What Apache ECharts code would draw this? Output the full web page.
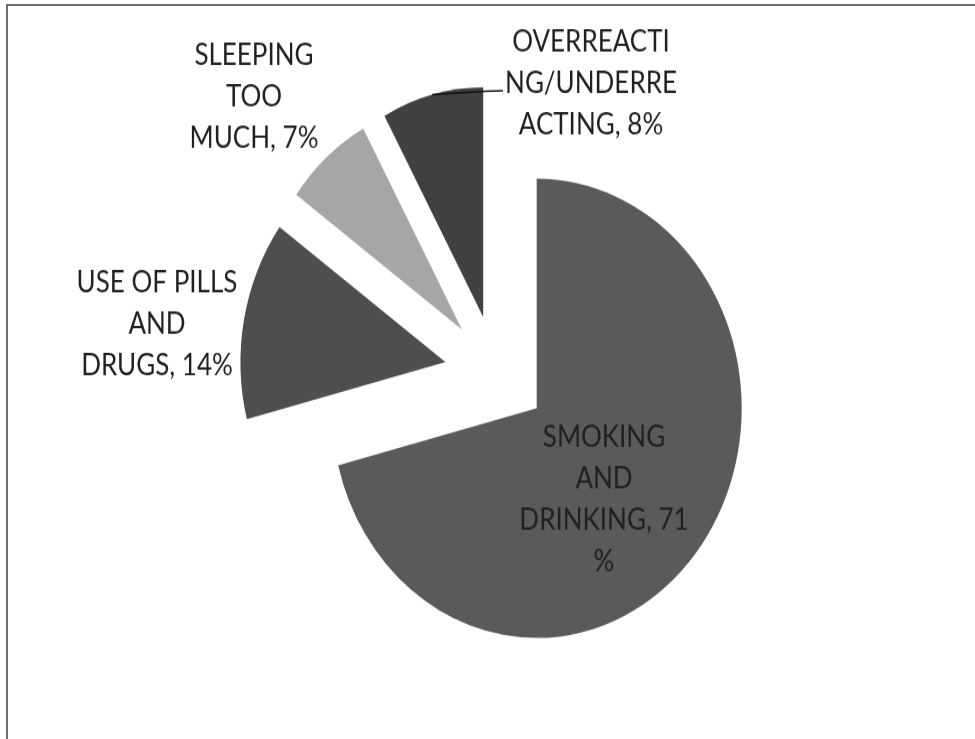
<!DOCTYPE html>
<html>
<head>
<meta charset="utf-8">
<script src="https://cdn.jsdelivr.net/npm/echarts@6/dist/echarts.min.js"></script>
<style>
  html, body { margin: 0; padding: 0; background: #ffffff; }
  body { width: 975px; height: 739px; position: relative; overflow: hidden; }
  #frame { position: absolute; left: 6px; top: 4px; width: 969px; height: 735px;
           border-left: 2px solid #6e6e6e; border-top: 2px solid #6e6e6e; box-sizing: border-box; }
  #wrap { position: absolute; left: 0; top: 0; width: 975px; height: 660px;
          transform: scaleY(1.12); transform-origin: 0 0; }
</style>
</head>
<body>
<div id="frame"></div>
<div id="wrap"></div>
<script>
// ---- data ----
var categories = ['SMOKING AND DRINKING', 'USE OF PILLS AND DRUGS', 'SLEEPING TOO MUCH', 'OVERREACTING/UNDERREACTING'];
var values = [71, 14, 7, 8];
var labelTexts = ['SMOKING\nAND\nDRINKING, 71\n%', 'USE OF PILLS\nAND\nDRUGS, 14%', 'SLEEPING\nTOO\nMUCH, 7%', 'OVERREACTI\nNG/UNDERRE\nACTING, 8%'];
var colors = ['#5a5a5c', '#4e4e50', '#a6a6a8', '#414143'];

// ---- layout (kept separate from data) ----
var CENTER = [496, 333];
var RADIUS = 205;
var EXPLODE = 51.5;
var labelAnchors = [[604, 446], [157, 290], [254, 87], [591, 75]];

// outer-arc midpoint of an exploded slice, from the values
function arcMid(idx) {
  var total = values.reduce(function (a, b) { return a + b; }, 0);
  var before = 0;
  for (var i = 0; i < idx; i++) before += values[i];
  var mid = (before + values[idx] / 2) / total * 2 * Math.PI;
  var r = RADIUS + EXPLODE;
  return [CENTER[0] + r * Math.sin(mid), CENTER[1] - r * Math.cos(mid)];
}

var chart = echarts.init(document.getElementById('wrap'), null, { renderer: 'canvas' });

var sliceData = categories.map(function (c, i) {
  return { name: c, value: values[i], selected: true, itemStyle: { color: colors[i] } };
});
var labelData = categories.map(function (c, i) {
  var item = { name: c, value: values[i], label: { formatter: labelTexts[i] } };
  if (i === 3) { item.labelLine = { show: true, lineStyle: { color: '#111111', width: 1.6 } }; }
  return item;
});

chart.setOption({
  animation: false,
  series: [{
    type: 'pie',
    name: 'slices',
    z: 1,
    center: CENTER,
    radius: [0, RADIUS],
    startAngle: 90,
    clockwise: true,
    selectedMode: 'multiple',
    selectedOffset: EXPLODE,
    silent: true,
    itemStyle: { borderWidth: 0 },
    label: { show: false },
    labelLine: { show: false },
    data: sliceData
  }, {
    type: 'pie',
    name: 'labels',
    z: 5,
    center: CENTER,
    radius: [0, RADIUS],
    startAngle: 90,
    clockwise: true,
    silent: true,
    avoidLabelOverlap: false,
    itemStyle: { color: 'rgba(0,0,0,0)', borderWidth: 0 },
    label: {
      show: true,
      position: 'outside',
      color: '#231f20',
      fontFamily: 'Lato',
      fontSize: 26,
      lineHeight: 37,
      align: 'center'
    },
    labelLine: { show: false, length: 10, length2: 10 },
    labelLayout: function (p) {
      var a = labelAnchors[p.dataIndex];
      var out = { x: a[0], y: a[1], align: 'center', verticalAlign: 'middle' };
      if (p.dataIndex === 3) {
        var s = arcMid(3);
        var ex = a[0] - p.labelRect.width / 2 - 2;
        out.labelLinePoints = [s, [ex - 18, a[1] + 6.5], [ex, a[1] + 6]];
      }
      return out;
    },
    data: labelData
  }]
});
</script>
</body>
</html>
